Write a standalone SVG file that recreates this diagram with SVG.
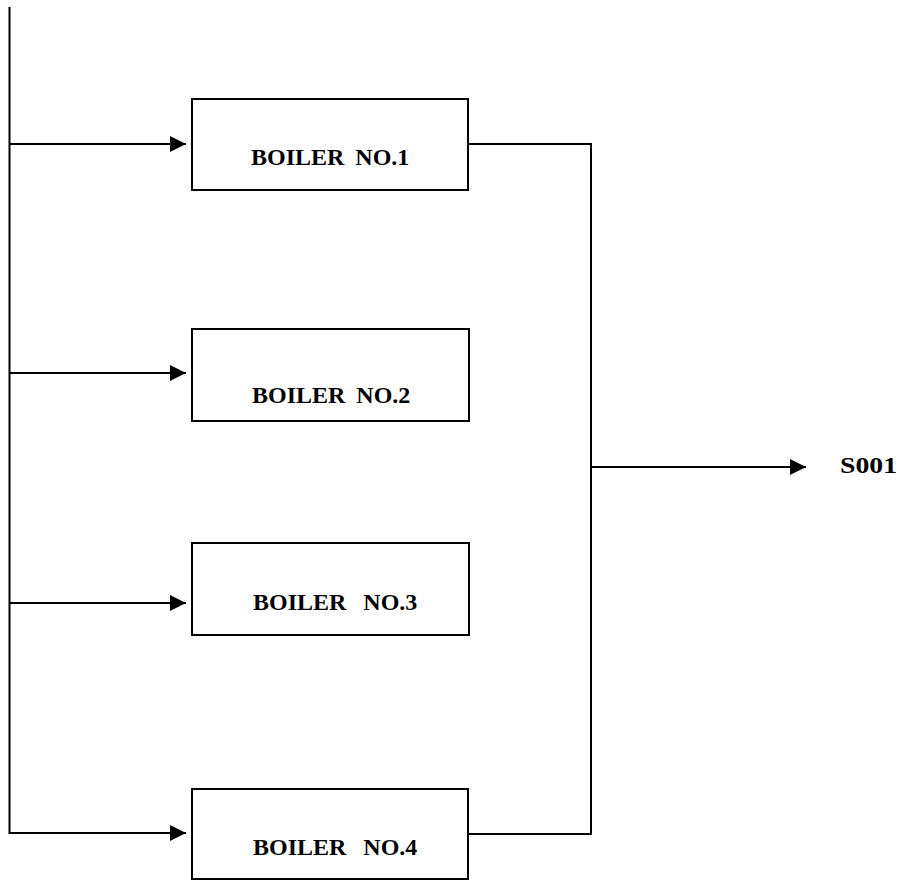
<svg xmlns="http://www.w3.org/2000/svg" width="903" height="880" viewBox="0 0 903 880">
<style>
.box{fill:#fff;stroke:#000;stroke-width:2}
.ln{fill:none;stroke:#000;stroke-width:2}
.lbl{font-family:"Liberation Serif","Times New Roman",serif;font-weight:bold;font-size:24px;fill:#000}
</style>
<defs>
<marker id="ah" markerUnits="userSpaceOnUse" markerWidth="16" markerHeight="16" viewBox="0 0 16 16" refX="16" refY="8" orient="auto">
<path d="M0,0 L16,8 L0,16 Z" fill="#000"/>
</marker>
</defs>
<rect width="903" height="880" fill="#fff"/>
<g id="connectors">
<path class="ln" d="M9.5,7 V834"/>
<path class="ln" d="M9.5,144 H186" marker-end="url(#ah)"/>
<path class="ln" d="M9.5,373 H186" marker-end="url(#ah)"/>
<path class="ln" d="M9.5,603 H186" marker-end="url(#ah)"/>
<path class="ln" d="M9.5,833 H186" marker-end="url(#ah)"/>
<path class="ln" d="M468,144 H591 V834 H468"/>
<path class="ln" d="M591,467 H806" marker-end="url(#ah)"/>
</g>
<g id="boiler1">
<rect class="box" x="192" y="99" width="276" height="91"/>
<text class="lbl" x="251" y="165" word-spacing="5">BOILER NO.1</text>
</g>
<g id="boiler2">
<rect class="box" x="192" y="329" width="277" height="92"/>
<text class="lbl" x="252" y="403" word-spacing="5">BOILER NO.2</text>
</g>
<g id="boiler3">
<rect class="box" x="192" y="543" width="277" height="92"/>
<text class="lbl" x="253" y="610" word-spacing="11">BOILER NO.3</text>
</g>
<g id="boiler4">
<rect class="box" x="192" y="789" width="276" height="90"/>
<text class="lbl" x="253" y="855" word-spacing="11">BOILER NO.4</text>
</g>
<g id="s001">
<text class="lbl" x="840" y="473" font-size="26" textLength="57" lengthAdjust="spacingAndGlyphs">S001</text>
</g>
</svg>
